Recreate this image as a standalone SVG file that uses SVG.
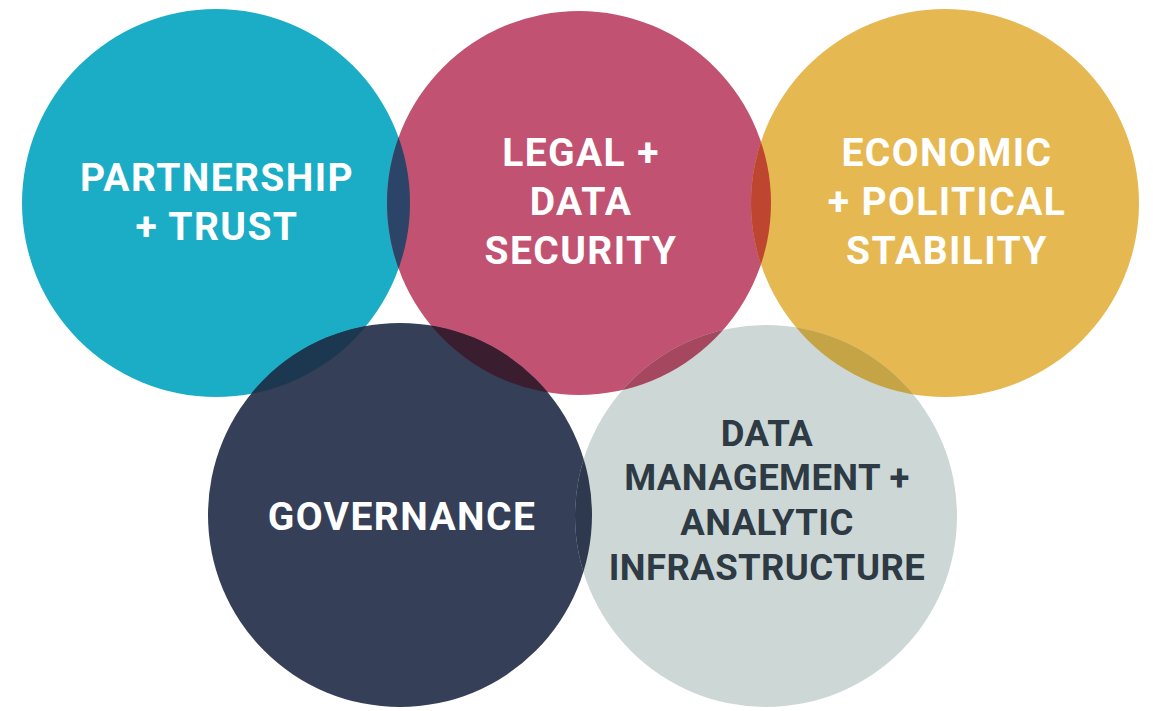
<svg xmlns="http://www.w3.org/2000/svg" width="1153" height="711" viewBox="0 0 1153 711">
  <style>
    .lbl { font-family: Roboto, "Liberation Sans", Arial, sans-serif; font-weight: 700; text-anchor: middle; }
    .w { fill: #FFFFFF; font-size: 39px; letter-spacing: 1.4px; }
    .d { fill: #2E3A44; font-size: 36.5px; letter-spacing: 0.4px; }
  </style>
  <defs>
    <clipPath id="c-teal"><circle cx="216" cy="203" r="194"/></clipPath>
    <clipPath id="c-pink"><circle cx="579" cy="203" r="192"/></clipPath>
    <clipPath id="c-yellow"><circle cx="945" cy="203" r="194"/></clipPath>
    <clipPath id="c-navy"><circle cx="400" cy="515" r="192"/></clipPath>
    <clipPath id="c-grey"><circle cx="766" cy="516" r="191"/></clipPath>
  </defs>
  <rect width="1153" height="711" fill="#FFFFFF"/>

  <g id="partnership-trust">
    <circle cx="216" cy="203" r="194" fill="#1BADC6"/>
    <text class="lbl w" x="217" y="191">PARTNERSHIP</text>
    <text class="lbl w" x="217" y="240">+ TRUST</text>
  </g>
  <g id="legal-data-security">
    <circle cx="579" cy="203" r="192" fill="#C25272"/>
    <text class="lbl w" x="581" y="166">LEGAL +</text>
    <text class="lbl w" x="581" y="215">DATA</text>
    <text class="lbl w" x="581" y="264">SECURITY</text>
  </g>
  <g id="economic-political-stability">
    <circle cx="945" cy="203" r="194" fill="#E6B852"/>
    <text class="lbl w" x="947" y="166">ECONOMIC</text>
    <text class="lbl w" x="947" y="215">+ POLITICAL</text>
    <text class="lbl w" x="947" y="264">STABILITY</text>
  </g>
  <g id="governance">
    <circle cx="400" cy="515" r="192" fill="#353F57"/>
    <text class="lbl w" x="402" y="530">GOVERNANCE</text>
  </g>
  <g id="data-management">
    <circle cx="766" cy="516" r="191" fill="#CDD8D6"/>
    <text class="lbl d" x="767" y="446">DATA</text>
    <text class="lbl d" x="767" y="490">MANAGEMENT +</text>
    <text class="lbl d" x="767" y="535">ANALYTIC</text>
    <text class="lbl d" x="767" y="580">INFRASTRUCTURE</text>
  </g>

  <g id="overlaps">
    <circle cx="579" cy="203" r="192" fill="#2C4468" clip-path="url(#c-teal)"/>
    <circle cx="945" cy="203" r="194" fill="#BE4530" clip-path="url(#c-pink)"/>
    <circle cx="400" cy="515" r="192" fill="#1B3850" clip-path="url(#c-teal)"/>
    <circle cx="400" cy="515" r="192" fill="#3A1E30" clip-path="url(#c-pink)"/>
    <circle cx="766" cy="516" r="191" fill="#A4475F" clip-path="url(#c-pink)"/>
    <circle cx="766" cy="516" r="191" fill="#C4A444" clip-path="url(#c-yellow)"/>
    <circle cx="766" cy="516" r="191" fill="#2E384F" clip-path="url(#c-navy)"/>
  </g>
</svg>
